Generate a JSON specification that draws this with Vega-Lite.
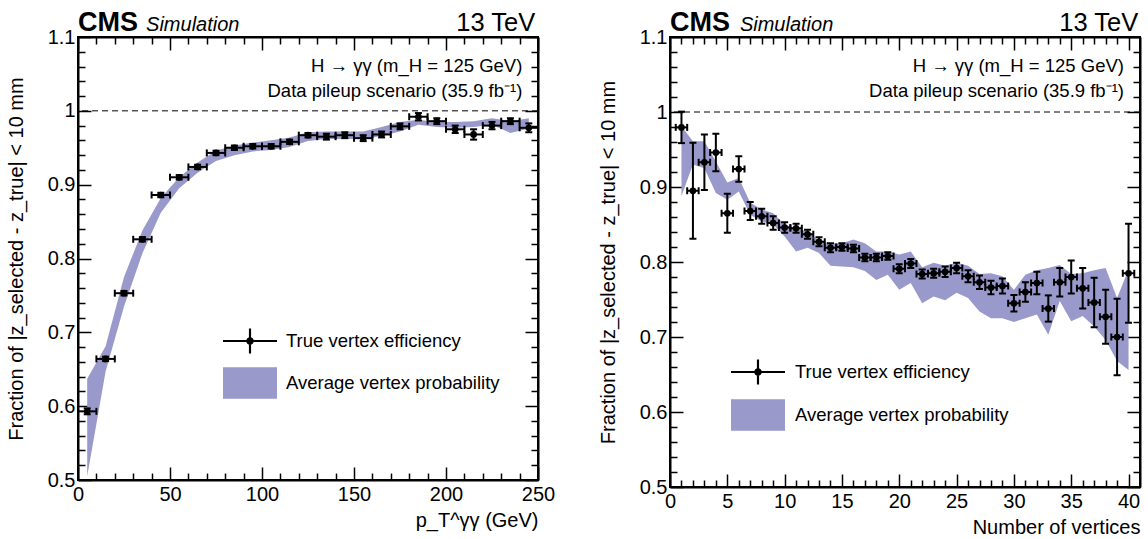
{
  "$schema": "https://vega.github.io/schema/vega-lite/v6.json",
  "background": "white",
  "padding": {"left": 5, "top": 7, "right": 2, "bottom": 0},
  "spacing": 41,
  "config": {
    "font": "Liberation Sans",
    "view": {"stroke": "black", "strokeWidth": 2},
    "axis": {"grid": false, "domainColor": "black", "domainWidth": 2, "tickColor": "black", "tickWidth": 1.5, "labelColor": "black", "titleColor": "black", "labelFont": "Liberation Sans", "titleFont": "Liberation Sans", "labelFontSize": 20, "titleFontSize": 20, "titleFontWeight": "normal", "labelFlush": false, "labelOverlap": false},
    "legend": {"labelFont": "Liberation Sans", "labelFontSize": 18.5, "labelColor": "black", "labelLimit": 600}
  },
  "datasets": {
    "leftPts": [
      {"x": 5, "xlo": 0, "xhi": 10, "y": 0.593, "ylo": 0.589, "yhi": 0.597},
      {"x": 15, "xlo": 10, "xhi": 20, "y": 0.664, "ylo": 0.661, "yhi": 0.667},
      {"x": 25, "xlo": 20, "xhi": 30, "y": 0.753, "ylo": 0.75, "yhi": 0.756},
      {"x": 35, "xlo": 30, "xhi": 40, "y": 0.826, "ylo": 0.823, "yhi": 0.829},
      {"x": 45, "xlo": 40, "xhi": 50, "y": 0.886, "ylo": 0.883, "yhi": 0.889},
      {"x": 55, "xlo": 50, "xhi": 60, "y": 0.91, "ylo": 0.907, "yhi": 0.913},
      {"x": 65, "xlo": 60, "xhi": 70, "y": 0.924, "ylo": 0.921, "yhi": 0.927},
      {"x": 75, "xlo": 70, "xhi": 80, "y": 0.943, "ylo": 0.94, "yhi": 0.946},
      {"x": 85, "xlo": 80, "xhi": 90, "y": 0.95, "ylo": 0.947, "yhi": 0.953},
      {"x": 95, "xlo": 90, "xhi": 100, "y": 0.952, "ylo": 0.949, "yhi": 0.955},
      {"x": 105, "xlo": 100, "xhi": 110, "y": 0.952, "ylo": 0.949, "yhi": 0.955},
      {"x": 115, "xlo": 110, "xhi": 120, "y": 0.958, "ylo": 0.955, "yhi": 0.961},
      {"x": 125, "xlo": 120, "xhi": 130, "y": 0.967, "ylo": 0.964, "yhi": 0.97},
      {"x": 135, "xlo": 130, "xhi": 140, "y": 0.965, "ylo": 0.961, "yhi": 0.969},
      {"x": 145, "xlo": 140, "xhi": 150, "y": 0.967, "ylo": 0.963, "yhi": 0.971},
      {"x": 155, "xlo": 150, "xhi": 160, "y": 0.963, "ylo": 0.959, "yhi": 0.967},
      {"x": 165, "xlo": 160, "xhi": 170, "y": 0.968, "ylo": 0.964, "yhi": 0.972},
      {"x": 175, "xlo": 170, "xhi": 180, "y": 0.979, "ylo": 0.975, "yhi": 0.983},
      {"x": 185, "xlo": 180, "xhi": 190, "y": 0.992, "ylo": 0.987, "yhi": 0.997},
      {"x": 195, "xlo": 190, "xhi": 200, "y": 0.986, "ylo": 0.982, "yhi": 0.99},
      {"x": 205, "xlo": 200, "xhi": 210, "y": 0.975, "ylo": 0.97, "yhi": 0.98},
      {"x": 215, "xlo": 210, "xhi": 220, "y": 0.968, "ylo": 0.961, "yhi": 0.975},
      {"x": 225, "xlo": 220, "xhi": 230, "y": 0.98, "ylo": 0.975, "yhi": 0.985},
      {"x": 235, "xlo": 230, "xhi": 240, "y": 0.986, "ylo": 0.982, "yhi": 0.99},
      {"x": 245, "xlo": 240, "xhi": 250, "y": 0.977, "ylo": 0.971, "yhi": 0.983}
    ],
    "leftBand": [
      {"x": 5, "lo": 0.505, "hi": 0.637},
      {"x": 15, "lo": 0.647, "hi": 0.681},
      {"x": 25, "lo": 0.735, "hi": 0.775},
      {"x": 35, "lo": 0.807, "hi": 0.838},
      {"x": 45, "lo": 0.862, "hi": 0.882},
      {"x": 55, "lo": 0.895, "hi": 0.91},
      {"x": 65, "lo": 0.916, "hi": 0.93},
      {"x": 75, "lo": 0.932, "hi": 0.946},
      {"x": 85, "lo": 0.94, "hi": 0.953},
      {"x": 95, "lo": 0.945, "hi": 0.957},
      {"x": 105, "lo": 0.947, "hi": 0.96},
      {"x": 115, "lo": 0.951, "hi": 0.964},
      {"x": 125, "lo": 0.959, "hi": 0.971},
      {"x": 135, "lo": 0.962, "hi": 0.972},
      {"x": 145, "lo": 0.962, "hi": 0.972},
      {"x": 155, "lo": 0.962, "hi": 0.972},
      {"x": 165, "lo": 0.966, "hi": 0.978},
      {"x": 175, "lo": 0.972, "hi": 0.985},
      {"x": 185, "lo": 0.981, "hi": 0.988},
      {"x": 195, "lo": 0.978, "hi": 0.985},
      {"x": 205, "lo": 0.977, "hi": 0.985},
      {"x": 215, "lo": 0.978, "hi": 0.986},
      {"x": 225, "lo": 0.981, "hi": 0.99},
      {"x": 235, "lo": 0.97, "hi": 0.986},
      {"x": 245, "lo": 0.976, "hi": 0.99}
    ],
    "rightPts": [
      {"x": 1, "xlo": 0.5, "xhi": 1.5, "y": 0.9795, "ylo": 0.9585, "yhi": 1.0005},
      {"x": 2, "xlo": 1.5, "xhi": 2.5, "y": 0.895, "ylo": 0.831, "yhi": 0.959},
      {"x": 3, "xlo": 2.5, "xhi": 3.5, "y": 0.933, "ylo": 0.896, "yhi": 0.97},
      {"x": 4, "xlo": 3.5, "xhi": 4.5, "y": 0.946, "ylo": 0.921, "yhi": 0.971},
      {"x": 5, "xlo": 4.5, "xhi": 5.5, "y": 0.865, "ylo": 0.839, "yhi": 0.891},
      {"x": 6, "xlo": 5.5, "xhi": 6.5, "y": 0.924, "ylo": 0.907, "yhi": 0.941},
      {"x": 7, "xlo": 6.5, "xhi": 7.5, "y": 0.868, "ylo": 0.856, "yhi": 0.88},
      {"x": 8, "xlo": 7.5, "xhi": 8.5, "y": 0.861, "ylo": 0.851, "yhi": 0.871},
      {"x": 9, "xlo": 8.5, "xhi": 9.5, "y": 0.852, "ylo": 0.843, "yhi": 0.861},
      {"x": 10, "xlo": 9.5, "xhi": 10.5, "y": 0.846, "ylo": 0.839, "yhi": 0.853},
      {"x": 11, "xlo": 10.5, "xhi": 11.5, "y": 0.845, "ylo": 0.839, "yhi": 0.851},
      {"x": 12, "xlo": 11.5, "xhi": 12.5, "y": 0.837, "ylo": 0.831, "yhi": 0.843},
      {"x": 13, "xlo": 12.5, "xhi": 13.5, "y": 0.827, "ylo": 0.821, "yhi": 0.833},
      {"x": 14, "xlo": 13.5, "xhi": 14.5, "y": 0.819, "ylo": 0.813, "yhi": 0.825},
      {"x": 15, "xlo": 14.5, "xhi": 15.5, "y": 0.82, "ylo": 0.815, "yhi": 0.825},
      {"x": 16, "xlo": 15.5, "xhi": 16.5, "y": 0.818, "ylo": 0.813, "yhi": 0.823},
      {"x": 17, "xlo": 16.5, "xhi": 17.5, "y": 0.806, "ylo": 0.801, "yhi": 0.811},
      {"x": 18, "xlo": 17.5, "xhi": 18.5, "y": 0.806, "ylo": 0.801, "yhi": 0.811},
      {"x": 19, "xlo": 18.5, "xhi": 19.5, "y": 0.808, "ylo": 0.803, "yhi": 0.813},
      {"x": 20, "xlo": 19.5, "xhi": 20.5, "y": 0.791, "ylo": 0.785, "yhi": 0.797},
      {"x": 21, "xlo": 20.5, "xhi": 21.5, "y": 0.798, "ylo": 0.792, "yhi": 0.804},
      {"x": 22, "xlo": 21.5, "xhi": 22.5, "y": 0.784, "ylo": 0.778, "yhi": 0.79},
      {"x": 23, "xlo": 22.5, "xhi": 23.5, "y": 0.785, "ylo": 0.779, "yhi": 0.791},
      {"x": 24, "xlo": 23.5, "xhi": 24.5, "y": 0.787, "ylo": 0.78, "yhi": 0.794},
      {"x": 25, "xlo": 24.5, "xhi": 25.5, "y": 0.792, "ylo": 0.785, "yhi": 0.799},
      {"x": 26, "xlo": 25.5, "xhi": 26.5, "y": 0.781, "ylo": 0.773, "yhi": 0.789},
      {"x": 27, "xlo": 26.5, "xhi": 27.5, "y": 0.773, "ylo": 0.764, "yhi": 0.782},
      {"x": 28, "xlo": 27.5, "xhi": 28.5, "y": 0.766, "ylo": 0.757, "yhi": 0.775},
      {"x": 29, "xlo": 28.5, "xhi": 29.5, "y": 0.768, "ylo": 0.758, "yhi": 0.778},
      {"x": 30, "xlo": 29.5, "xhi": 30.5, "y": 0.745, "ylo": 0.734, "yhi": 0.756},
      {"x": 31, "xlo": 30.5, "xhi": 31.5, "y": 0.76, "ylo": 0.747, "yhi": 0.773},
      {"x": 32, "xlo": 31.5, "xhi": 32.5, "y": 0.772, "ylo": 0.757, "yhi": 0.787},
      {"x": 33, "xlo": 32.5, "xhi": 33.5, "y": 0.738, "ylo": 0.7205, "yhi": 0.7555},
      {"x": 34, "xlo": 33.5, "xhi": 34.5, "y": 0.773, "ylo": 0.754, "yhi": 0.792},
      {"x": 35, "xlo": 34.5, "xhi": 35.5, "y": 0.78, "ylo": 0.758, "yhi": 0.802},
      {"x": 36, "xlo": 35.5, "xhi": 36.5, "y": 0.765, "ylo": 0.738, "yhi": 0.792},
      {"x": 37, "xlo": 36.5, "xhi": 37.5, "y": 0.746, "ylo": 0.713, "yhi": 0.779},
      {"x": 38, "xlo": 37.5, "xhi": 38.5, "y": 0.727, "ylo": 0.691, "yhi": 0.763},
      {"x": 39, "xlo": 38.5, "xhi": 39.5, "y": 0.7, "ylo": 0.649, "yhi": 0.751},
      {"x": 40, "xlo": 39.5, "xhi": 40.5, "y": 0.785, "ylo": 0.719, "yhi": 0.851}
    ],
    "rightBand": [
      {"x": 1, "lo": 0.888, "hi": 0.981},
      {"x": 2, "lo": 0.93, "hi": 0.961},
      {"x": 3, "lo": 0.925, "hi": 0.961},
      {"x": 4, "lo": 0.892, "hi": 0.934},
      {"x": 5, "lo": 0.883, "hi": 0.906},
      {"x": 6, "lo": 0.894, "hi": 0.912},
      {"x": 7, "lo": 0.863, "hi": 0.879},
      {"x": 8, "lo": 0.854, "hi": 0.87},
      {"x": 9, "lo": 0.85, "hi": 0.865},
      {"x": 10, "lo": 0.834, "hi": 0.85},
      {"x": 11, "lo": 0.814, "hi": 0.845},
      {"x": 12, "lo": 0.819, "hi": 0.841},
      {"x": 13, "lo": 0.812, "hi": 0.828},
      {"x": 14, "lo": 0.795, "hi": 0.825},
      {"x": 15, "lo": 0.794, "hi": 0.825},
      {"x": 16, "lo": 0.793, "hi": 0.83},
      {"x": 17, "lo": 0.788, "hi": 0.825},
      {"x": 18, "lo": 0.776, "hi": 0.814},
      {"x": 19, "lo": 0.783, "hi": 0.814},
      {"x": 20, "lo": 0.763, "hi": 0.81},
      {"x": 21, "lo": 0.772, "hi": 0.814},
      {"x": 22, "lo": 0.745, "hi": 0.793},
      {"x": 23, "lo": 0.754, "hi": 0.799},
      {"x": 24, "lo": 0.749, "hi": 0.795},
      {"x": 25, "lo": 0.759, "hi": 0.799},
      {"x": 26, "lo": 0.752, "hi": 0.795},
      {"x": 27, "lo": 0.734, "hi": 0.784},
      {"x": 28, "lo": 0.725, "hi": 0.785},
      {"x": 29, "lo": 0.725, "hi": 0.781},
      {"x": 30, "lo": 0.72, "hi": 0.763},
      {"x": 31, "lo": 0.725, "hi": 0.783},
      {"x": 32, "lo": 0.73, "hi": 0.789},
      {"x": 33, "lo": 0.703, "hi": 0.792},
      {"x": 34, "lo": 0.748, "hi": 0.796},
      {"x": 35, "lo": 0.721, "hi": 0.784},
      {"x": 36, "lo": 0.728, "hi": 0.785},
      {"x": 37, "lo": 0.714, "hi": 0.789},
      {"x": 38, "lo": 0.696, "hi": 0.792},
      {"x": 39, "lo": 0.668, "hi": 0.752},
      {"x": 40, "lo": 0.656, "hi": 0.79}
    ]
  },
  "resolve": {"scale": {"color": "independent", "fill": "independent"}, "legend": {"color": "independent", "fill": "independent"}},
  "hconcat": [
    {
      "width": 460,
      "height": 443,
      "resolve": {"axis": {"x": "independent", "y": "independent"}},
      "layer": [
        {
          "data": {"name": "leftBand"},
          "mark": {"type": "area", "color": "#9999cc", "opacity": 1, "interpolate": "linear"},
          "encoding": {
            "x": {"field": "x", "type": "quantitative", "scale": {"domain": [0, 250], "nice": false, "zero": false},
                  "axis": {"orient": "bottom", "values": [0, 50, 100, 150, 200, 250], "tickSize": -13, "labelPadding": 17, "title": "p_T^γγ (GeV)", "titleAnchor": "end", "titlePadding": 6}},
            "y": {"field": "lo", "type": "quantitative", "scale": {"domain": [0.5, 1.1], "nice": false, "zero": false},
                  "axis": {"orient": "left", "values": [0.5, 0.6, 0.7, 0.8, 0.9, 1.0, 1.1], "format": ".1~f", "tickSize": -13, "labelPadding": 16, "title": "Fraction of |z_selected - z_true| < 10 mm", "titlePadding": 21}},
            "y2": {"field": "hi"},
            "fill": {"datum": "Average vertex probability", "type": "nominal", "scale": {"range": ["#9999cc"]},
                     "legend": {"orient": "none", "legendX": 145, "legendY": 319, "title": null, "padding": 0, "symbolType": "M-1,-0.58H1V0.58H-1Z", "symbolSize": 2916, "symbolOpacity": 1, "symbolStrokeWidth": 0, "labelOffset": 9}}
          }
        },
        {
          "data": {"values": [{}]},
          "mark": {"type": "rule", "color": "black", "strokeWidth": 1, "strokeDash": [6, 4]},
          "encoding": {"y": {"datum": 1, "type": "quantitative", "axis": null}}
        },
        {
          "data": {"name": "leftPts"},
          "mark": {"type": "rule", "color": "black", "strokeWidth": 2},
          "encoding": {
            "x": {"field": "x", "type": "quantitative", "axis": {"orient": "top", "values": [0, 50, 100, 150, 200, 250], "tickSize": -13, "labels": false, "title": null}},
            "y": {"field": "ylo", "type": "quantitative", "axis": {"orient": "right", "values": [0.5, 0.6, 0.7, 0.8, 0.9, 1.0, 1.1], "tickSize": -13, "labels": false, "title": null}},
            "y2": {"field": "yhi"}
          }
        },
        {
          "data": {"name": "leftPts"},
          "mark": {"type": "rule", "color": "black", "strokeWidth": 2},
          "encoding": {
            "x": {"field": "xlo", "type": "quantitative", "axis": {"orient": "bottom", "values": [10, 20, 30, 40, 60, 70, 80, 90, 110, 120, 130, 140, 160, 170, 180, 190, 210, 220, 230, 240], "tickSize": -7, "labels": false, "title": null, "domain": false}},
            "x2": {"field": "xhi"},
            "y": {"field": "y", "type": "quantitative", "axis": {"orient": "left", "values": [0.52, 0.54, 0.56, 0.58, 0.62, 0.64, 0.66, 0.68, 0.72, 0.74, 0.76, 0.78, 0.82, 0.84, 0.86, 0.88, 0.92, 0.94, 0.96, 0.98, 1.02, 1.04, 1.06, 1.08], "tickSize": -7, "labels": false, "title": null, "domain": false}}
          }
        },
        {
          "data": {"name": "leftPts"},
          "mark": {"type": "tick", "orient": "horizontal", "color": "black", "size": 7, "thickness": 2, "opacity": 1},
          "encoding": {
            "x": {"field": "x", "type": "quantitative", "axis": {"orient": "top", "values": [10, 20, 30, 40, 60, 70, 80, 90, 110, 120, 130, 140, 160, 170, 180, 190, 210, 220, 230, 240], "tickSize": -7, "labels": false, "title": null, "domain": false}},
            "y": {"field": "ylo", "type": "quantitative", "axis": {"orient": "right", "values": [0.52, 0.54, 0.56, 0.58, 0.62, 0.64, 0.66, 0.68, 0.72, 0.74, 0.76, 0.78, 0.82, 0.84, 0.86, 0.88, 0.92, 0.94, 0.96, 0.98, 1.02, 1.04, 1.06, 1.08], "tickSize": -7, "labels": false, "title": null, "domain": false}}
          }
        },
        {
          "data": {"name": "leftPts"},
          "mark": {"type": "tick", "orient": "horizontal", "color": "black", "size": 7, "thickness": 2, "opacity": 1},
          "encoding": {
            "x": {"field": "x", "type": "quantitative", "axis": null},
            "y": {"field": "yhi", "type": "quantitative", "axis": null}
          }
        },
        {
          "data": {"name": "leftPts"},
          "mark": {"type": "tick", "orient": "vertical", "color": "black", "size": 7, "thickness": 2, "opacity": 1},
          "encoding": {
            "x": {"field": "xlo", "type": "quantitative", "axis": null},
            "y": {"field": "y", "type": "quantitative", "axis": null}
          }
        },
        {
          "data": {"name": "leftPts"},
          "mark": {"type": "tick", "orient": "vertical", "color": "black", "size": 7, "thickness": 2, "opacity": 1},
          "encoding": {
            "x": {"field": "xhi", "type": "quantitative", "axis": null},
            "y": {"field": "y", "type": "quantitative", "axis": null}
          }
        },
        {
          "data": {"name": "leftPts"},
          "mark": {"type": "point", "shape": "circle", "filled": true, "size": 45, "opacity": 1},
          "encoding": {
            "x": {"field": "x", "type": "quantitative", "axis": null},
            "y": {"field": "y", "type": "quantitative", "axis": null},
            "color": {"datum": "True vertex efficiency", "type": "nominal", "scale": {"range": ["black"]},
                      "legend": {"orient": "none", "legendX": 145, "legendY": 277, "title": null, "padding": 0, "symbolType": "M-1,-0.04H1V0.04H-1Z M-0.04,-0.46H0.04V0.46H-0.04Z M-0.14,0A0.14,0.14,0,1,1,0.14,0A0.14,0.14,0,1,1,-0.14,0Z", "symbolSize": 2916, "symbolOpacity": 1, "symbolFillColor": "black", "symbolStrokeWidth": 0, "labelOffset": 9}}
          }
        },
        {
          "data": {"values": [{}]},
          "mark": {"type": "text", "text": "CMS", "font": "Liberation Sans", "fontWeight": "bold", "fontSize": 27, "align": "left", "baseline": "alphabetic", "color": "black"},
          "encoding": {"x": {"datum": 0, "type": "quantitative", "axis": null}, "y": {"datum": 1.1081, "type": "quantitative", "axis": null}}
        },
        {
          "data": {"values": [{}]},
          "mark": {"type": "text", "text": "Simulation", "font": "Liberation Sans", "fontStyle": "italic", "fontSize": 20, "align": "left", "baseline": "alphabetic", "color": "black"},
          "encoding": {"x": {"datum": 37, "type": "quantitative", "axis": null}, "y": {"datum": 1.1081, "type": "quantitative", "axis": null}}
        },
        {
          "data": {"values": [{}]},
          "mark": {"type": "text", "text": "13 TeV", "font": "Liberation Sans", "fontSize": 25.5, "align": "right", "baseline": "alphabetic", "color": "black"},
          "encoding": {"x": {"datum": 248.5, "type": "quantitative", "axis": null}, "y": {"datum": 1.1081, "type": "quantitative", "axis": null}}
        },
        {
          "data": {"values": [{}]},
          "mark": {"type": "text", "text": "H → γγ (m_H = 125 GeV)", "font": "Liberation Sans", "fontSize": 18.5, "align": "right", "baseline": "middle", "color": "black"},
          "encoding": {"x": {"datum": 241.5, "type": "quantitative", "axis": null}, "y": {"datum": 1.0607, "type": "quantitative", "axis": null}}
        },
        {
          "data": {"values": [{}]},
          "mark": {"type": "text", "text": "Data pileup scenario (35.9 fb⁻¹)", "font": "Liberation Sans", "fontSize": 18.5, "align": "right", "baseline": "middle", "color": "black"},
          "encoding": {"x": {"datum": 241.5, "type": "quantitative", "axis": null}, "y": {"datum": 1.0268, "type": "quantitative", "axis": null}}
        }
      ]
    },
    {
      "width": 470,
      "height": 450,
      "resolve": {"axis": {"x": "independent", "y": "independent"}},
      "layer": [
        {
          "data": {"name": "rightBand"},
          "mark": {"type": "area", "color": "#9999cc", "opacity": 1, "interpolate": "linear"},
          "encoding": {
            "x": {"field": "x", "type": "quantitative", "scale": {"domain": [0, 41], "nice": false, "zero": false},
                  "axis": {"orient": "bottom", "values": [0, 5, 10, 15, 20, 25, 30, 35, 40], "tickSize": -13, "labelPadding": 17, "title": "Number of vertices", "titleAnchor": "end", "titlePadding": 6}},
            "y": {"field": "lo", "type": "quantitative", "scale": {"domain": [0.5, 1.1], "nice": false, "zero": false},
                  "axis": {"orient": "left", "values": [0.5, 0.6, 0.7, 0.8, 0.9, 1.0, 1.1], "format": ".1~f", "tickSize": -13, "labelPadding": 16, "title": "Fraction of |z_selected - z_true| < 10 mm", "titlePadding": 21}},
            "y2": {"field": "hi"},
            "fill": {"datum": "Average vertex probability", "type": "nominal", "scale": {"range": ["#9999cc"]},
                     "legend": {"orient": "none", "legendX": 61, "legendY": 351, "title": null, "padding": 0, "symbolType": "M-1,-0.58H1V0.58H-1Z", "symbolSize": 2916, "symbolOpacity": 1, "symbolStrokeWidth": 0, "labelOffset": 10}}
          }
        },
        {
          "data": {"values": [{}]},
          "mark": {"type": "rule", "color": "black", "strokeWidth": 1, "strokeDash": [6, 4]},
          "encoding": {"y": {"datum": 1, "type": "quantitative", "axis": null}}
        },
        {
          "data": {"name": "rightPts"},
          "mark": {"type": "rule", "color": "black", "strokeWidth": 2},
          "encoding": {
            "x": {"field": "x", "type": "quantitative", "axis": {"orient": "top", "values": [0, 5, 10, 15, 20, 25, 30, 35, 40], "tickSize": -13, "labels": false, "title": null}},
            "y": {"field": "ylo", "type": "quantitative", "axis": {"orient": "right", "values": [0.5, 0.6, 0.7, 0.8, 0.9, 1.0, 1.1], "tickSize": -13, "labels": false, "title": null}},
            "y2": {"field": "yhi"}
          }
        },
        {
          "data": {"name": "rightPts"},
          "mark": {"type": "rule", "color": "black", "strokeWidth": 2},
          "encoding": {
            "x": {"field": "xlo", "type": "quantitative", "axis": {"orient": "bottom", "values": [1, 2, 3, 4, 6, 7, 8, 9, 11, 12, 13, 14, 16, 17, 18, 19, 21, 22, 23, 24, 26, 27, 28, 29, 31, 32, 33, 34, 36, 37, 38, 39], "tickSize": -7, "labels": false, "title": null, "domain": false}},
            "x2": {"field": "xhi"},
            "y": {"field": "y", "type": "quantitative", "axis": {"orient": "left", "values": [0.52, 0.54, 0.56, 0.58, 0.62, 0.64, 0.66, 0.68, 0.72, 0.74, 0.76, 0.78, 0.82, 0.84, 0.86, 0.88, 0.92, 0.94, 0.96, 0.98, 1.02, 1.04, 1.06, 1.08], "tickSize": -7, "labels": false, "title": null, "domain": false}}
          }
        },
        {
          "data": {"name": "rightPts"},
          "mark": {"type": "tick", "orient": "horizontal", "color": "black", "size": 7, "thickness": 2, "opacity": 1},
          "encoding": {
            "x": {"field": "x", "type": "quantitative", "axis": {"orient": "top", "values": [1, 2, 3, 4, 6, 7, 8, 9, 11, 12, 13, 14, 16, 17, 18, 19, 21, 22, 23, 24, 26, 27, 28, 29, 31, 32, 33, 34, 36, 37, 38, 39], "tickSize": -7, "labels": false, "title": null, "domain": false}},
            "y": {"field": "ylo", "type": "quantitative", "axis": {"orient": "right", "values": [0.52, 0.54, 0.56, 0.58, 0.62, 0.64, 0.66, 0.68, 0.72, 0.74, 0.76, 0.78, 0.82, 0.84, 0.86, 0.88, 0.92, 0.94, 0.96, 0.98, 1.02, 1.04, 1.06, 1.08], "tickSize": -7, "labels": false, "title": null, "domain": false}}
          }
        },
        {
          "data": {"name": "rightPts"},
          "mark": {"type": "tick", "orient": "horizontal", "color": "black", "size": 7, "thickness": 2, "opacity": 1},
          "encoding": {
            "x": {"field": "x", "type": "quantitative", "axis": null},
            "y": {"field": "yhi", "type": "quantitative", "axis": null}
          }
        },
        {
          "data": {"name": "rightPts"},
          "mark": {"type": "tick", "orient": "vertical", "color": "black", "size": 7, "thickness": 2, "opacity": 1},
          "encoding": {
            "x": {"field": "xlo", "type": "quantitative", "axis": null},
            "y": {"field": "y", "type": "quantitative", "axis": null}
          }
        },
        {
          "data": {"name": "rightPts"},
          "mark": {"type": "tick", "orient": "vertical", "color": "black", "size": 7, "thickness": 2, "opacity": 1},
          "encoding": {
            "x": {"field": "xhi", "type": "quantitative", "axis": null},
            "y": {"field": "y", "type": "quantitative", "axis": null}
          }
        },
        {
          "data": {"name": "rightPts"},
          "mark": {"type": "point", "shape": "circle", "filled": true, "size": 45, "opacity": 1},
          "encoding": {
            "x": {"field": "x", "type": "quantitative", "axis": null},
            "y": {"field": "y", "type": "quantitative", "axis": null},
            "color": {"datum": "True vertex efficiency", "type": "nominal", "scale": {"range": ["black"]},
                      "legend": {"orient": "none", "legendX": 61, "legendY": 308, "title": null, "padding": 0, "symbolType": "M-1,-0.04H1V0.04H-1Z M-0.04,-0.46H0.04V0.46H-0.04Z M-0.14,0A0.14,0.14,0,1,1,0.14,0A0.14,0.14,0,1,1,-0.14,0Z", "symbolSize": 2916, "symbolOpacity": 1, "symbolFillColor": "black", "symbolStrokeWidth": 0, "labelOffset": 10}}
          }
        },
        {
          "data": {"values": [{}]},
          "mark": {"type": "text", "text": "CMS", "font": "Liberation Sans", "fontWeight": "bold", "fontSize": 27, "align": "left", "baseline": "alphabetic", "color": "black"},
          "encoding": {"x": {"datum": 0, "type": "quantitative", "axis": null}, "y": {"datum": 1.108, "type": "quantitative", "axis": null}}
        },
        {
          "data": {"values": [{}]},
          "mark": {"type": "text", "text": "Simulation", "font": "Liberation Sans", "fontStyle": "italic", "fontSize": 20, "align": "left", "baseline": "alphabetic", "color": "black"},
          "encoding": {"x": {"datum": 6.1, "type": "quantitative", "axis": null}, "y": {"datum": 1.108, "type": "quantitative", "axis": null}}
        },
        {
          "data": {"values": [{}]},
          "mark": {"type": "text", "text": "13 TeV", "font": "Liberation Sans", "fontSize": 25.5, "align": "right", "baseline": "alphabetic", "color": "black"},
          "encoding": {"x": {"datum": 40.85, "type": "quantitative", "axis": null}, "y": {"datum": 1.108, "type": "quantitative", "axis": null}}
        },
        {
          "data": {"values": [{}]},
          "mark": {"type": "text", "text": "H → γγ (m_H = 125 GeV)", "font": "Liberation Sans", "fontSize": 18.5, "align": "right", "baseline": "middle", "color": "black"},
          "encoding": {"x": {"datum": 39.6, "type": "quantitative", "axis": null}, "y": {"datum": 1.0613, "type": "quantitative", "axis": null}}
        },
        {
          "data": {"values": [{}]},
          "mark": {"type": "text", "text": "Data pileup scenario (35.9 fb⁻¹)", "font": "Liberation Sans", "fontSize": 18.5, "align": "right", "baseline": "middle", "color": "black"},
          "encoding": {"x": {"datum": 39.6, "type": "quantitative", "axis": null}, "y": {"datum": 1.028, "type": "quantitative", "axis": null}}
        }
      ]
    }
  ]
}
